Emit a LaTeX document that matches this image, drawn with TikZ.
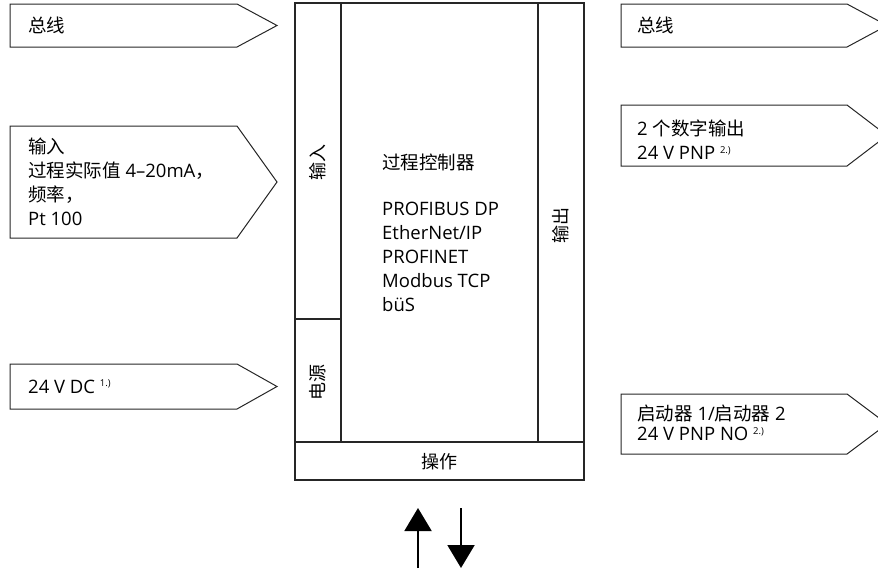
\documentclass[tikz,border=0pt]{standalone}
\usepackage{fontspec}
\setmainfont{Open Sans}
\newfontfamily\cjk{Noto Sans CJK SC}
\usetikzlibrary{arrows.meta}
\newcommand{\fnote}[1]{\raisebox{6.5pt}{\fontsize{9.5}{9.5}\selectfont #1}}

\begin{document}
\begin{tikzpicture}[x=1pt, y=-1pt,
  tag/.style={draw=black!85, line width=1pt},
  box/.style={draw=black!85, line width=1.2pt},
  lbl/.style={anchor=west, inner sep=0pt, align=left, font=\fontsize{18.5}{24}\selectfont},
  vlbl/.style={rotate=90, inner sep=0pt, font=\cjk\fontsize{18}{20}\selectfont},
  flow/.style={line width=2pt, -{Triangle[width=27pt, length=23pt]}}]
\useasboundingbox (0,0) rectangle (878,570);
\clip (0,0) rectangle (878,570);
% signals on the left
\draw[tag] (10,4) -- (237,4) -- (277,25.5) -- (237,47) -- (10,47) -- cycle;
\draw[tag] (10,126) -- (237,126) -- (277,182) -- (237,238) -- (10,238) -- cycle;
\draw[tag] (10,364) -- (237,364) -- (277,386.5) -- (237,409) -- (10,409) -- cycle;
\node[lbl] (busL) at (28,25.5) {\cjk 总线};
\node[lbl] (inp) at (28,182) {\cjk 输入\\{\cjk 过程实际值} 4–20mA{\cjk ，}\\{\cjk 频率，}\\Pt 100};
\node[lbl] (pwr) at (28,386.5) {24 V DC \fnote{1.)}};
% controller
\draw[box] (295,3) rectangle (584,480);
\draw[box] (341,3) -- (341,442);
\draw[box] (538,3) -- (538,442);
\draw[box] (295,442) -- (584,442);
\draw[box] (295,319) -- (341,319);
\node[vlbl] (inV) at (318,162) {输入};
\node[vlbl] (pwrV) at (318,382) {电源};
\node[vlbl] (outV) at (561,225) {输出};
\node[lbl] (ctrl) at (382,233) {{\cjk 过程控制器}\\[22pt]PROFIBUS DP\\EtherNet/IP\\PROFINET\\Modbus TCP\\büS};
\node[inner sep=0pt, font=\cjk\fontsize{18}{20}\selectfont] (op) at (439.5,462) {操作};
% signals on the right
\draw[tag] (621,4) -- (847,4) -- (887,25.5) -- (847,47) -- (621,47) -- cycle;
\draw[tag] (621,105) -- (847,105) -- (887,135.5) -- (847,166) -- (621,166) -- cycle;
\draw[tag] (621,394) -- (847,394) -- (887,424) -- (847,454) -- (621,454) -- cycle;
\node[lbl] (busR) at (637,25.5) {\cjk 总线};
\node[lbl] (dout) at (637,140) {2 {\cjk 个数字输出}\\24 V PNP \fnote{2.)}};
\node[lbl, font=\fontsize{18.5}{20}\selectfont] (start) at (637,423) {{\cjk 启动器} 1/{\cjk 启动器} 2\\24 V PNP NO \fnote{2.)}};
% operation arrows
\coordinate (upA) at (418,568);
\coordinate (upB) at (418,508);
\coordinate (dnA) at (461,508);
\coordinate (dnB) at (461,568);
\draw[flow] (upA) -- (upB);
\draw[flow] (dnA) -- (dnB);
\end{tikzpicture}
\end{document}
